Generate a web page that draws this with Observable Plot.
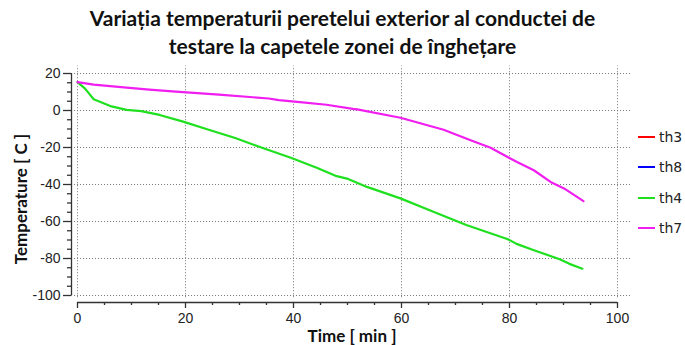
<!DOCTYPE html>
<html>
<head>
<meta charset="utf-8">
<script src="https://cdn.jsdelivr.net/npm/d3@7"></script>
<script src="https://cdn.jsdelivr.net/npm/@observablehq/plot@0.6"></script>
<style>
  body { margin: 0; background: #fff; }
  #wrap { position: relative; width: 685px; height: 345px; overflow: hidden; background: #fff; }
  #title { position: absolute; left: 0; top: 4px; width: 685px; text-align: center;
    font-family: Lato, sans-serif; font-weight: bold; font-size: 21px; line-height: 28px; color: #111; }
  #chart { position: absolute; left: 0; top: 62px; }
  #legend { position: absolute; left: 638px; top: 122px; font-family: "DejaVu Sans", sans-serif; font-size: 14px; color: #222; }
  .item { display: flex; align-items: center; height: 30.3px; }
  .sw { width: 17px; height: 2px; margin-right: 4px; }
  .axt { position: absolute; font-family: Lato, sans-serif; font-weight: bold; font-size: 17px; color: #111; white-space: nowrap; line-height: 1; }
  #ytitle { left: 20px; top: 199px; transform: translate(-50%, -50%) rotate(-90deg); }
  #xtitle { left: 352px; top: 335px; transform: translate(-50%, -50%); }
</style>
</head>
<body>
<div id="wrap">
  <div id="title">Variația temperaturii peretelui exterior al conductei de<br>testare la capetele zonei de înghețare</div>
  <div id="chart"></div>
  <div id="legend"></div>
  <div id="ytitle" class="axt"></div>
  <div id="xtitle" class="axt"></div>
</div>
<script>
const seriesNames = ["th3", "th8", "th4", "th7"];
const seriesColors = ["#ff0000", "#0000ff", "#1fe01f", "#f01ef0"];

const timeTh3 = [];
const th3 = [];
const timeTh8 = [];
const th8 = [];
const timeTh4 = [0, 1.4, 3.0, 6.3, 9.1, 11.8, 15.2, 19.4, 24.3, 29.2, 34.7, 39.5, 44.3, 48.0, 49.9, 53.6, 59.8, 65.9, 72.0, 79.7, 81.3, 84.4, 89.3, 91.1, 93.5];
const th4 = [15.3, 11.8, 6.1, 2.2, 0.3, -0.3, -2.4, -5.9, -10.4, -14.9, -20.7, -25.5, -30.9, -35.5, -36.8, -41.3, -47.5, -54.7, -61.9, -69.6, -72.1, -75.4, -80.4, -82.9, -85.5];
const timeTh7 = [0, 3.0, 9.1, 13.3, 18.2, 26.2, 35.4, 37.3, 41.2, 46.1, 51.0, 51.8, 59.8, 67.8, 72.8, 76.5, 79.9, 81.4, 84.5, 87.6, 90.1, 93.7];
const th7 = [15.3, 14.0, 12.4, 11.3, 10.2, 8.6, 6.5, 5.6, 4.5, 3.1, 0.9, 0.6, -3.9, -10.4, -16.1, -20.1, -25.5, -27.8, -32.3, -38.6, -42.1, -49.0];

const xTicks = [0, 20, 40, 60, 80, 100];
const yTicks = [20, 0, -20, -40, -60, -80, -100];
const xMinor = d3.range(0, 101, 5).filter(v => v % 20 !== 0);
const yMinor = d3.range(-100, 21, 5).filter(v => v % 20 !== 0);
const xTitle = "Time [ min ]";
const yTitle = "Temperature [ C ]";

const times = [timeTh3, timeTh8, timeTh4, timeTh7];
const vals = [th3, th8, th4, th7];
const data = [];
seriesNames.forEach((name, i) => {
  times[i].forEach((t, j) => data.push({series: name, time: t, temp: vals[i][j]}));
});

const tickFont = "Liberation Sans, Arial, sans-serif";
const grid = {stroke: "#777", strokeDasharray: "1,2", strokeWidth: 1};
const fmt = d => String(d);

const plot = Plot.plot({
  width: 685,
  height: 283,
  marginTop: 11,
  marginBottom: 50,
  marginLeft: 77,
  marginRight: 68,
  x: {domain: [0, 100]},
  y: {domain: [-100, 20]},
  style: {fontFamily: tickFont, fontSize: "14px", color: "#222", background: "#fff", overflow: "visible"},
  marks: [
    Plot.ruleY(yTicks, {x1: -1.1, x2: 102.8, ...grid}),
    Plot.ruleX(xTicks, {y1: -101.2, y2: 24, ...grid}),
    Plot.line(data, {x: "time", y: "temp", z: "series",
      stroke: d => seriesColors[seriesNames.indexOf(d.series)], strokeWidth: 2.2, curve: "linear"}),
    Plot.ruleX([0], {y1: -100, y2: 20, dx: -6, stroke: "#333", strokeWidth: 1.3}),
    Plot.axisY({ticks: yTicks, tickFormat: fmt, tickSize: 8, dx: -6, tickPadding: 3, stroke: "#333", strokeWidth: 1.3, label: null}),
    Plot.axisY({ticks: yMinor, tickSize: 4, dx: -6, text: null, stroke: "#333", strokeWidth: 1.3, label: null}),
    Plot.ruleY([-100], {x1: 0, x2: 100, dy: 7, stroke: "#333", strokeWidth: 1.3}),
    Plot.axisX({ticks: xTicks, tickFormat: fmt, tickSize: 6, dy: 7, tickPadding: 5, stroke: "#333", strokeWidth: 1.3, label: null}),
    Plot.axisX({ticks: xMinor, tickSize: 3, dy: 7, text: null, stroke: "#333", strokeWidth: 1.3, label: null})
  ]
});
document.getElementById("chart").appendChild(plot);
document.getElementById("ytitle").textContent = yTitle;
document.getElementById("xtitle").textContent = xTitle;

const legend = document.getElementById("legend");
seriesNames.forEach((name, i) => {
  const row = document.createElement("div");
  row.className = "item";
  row.innerHTML = `<span class="sw" style="background:${seriesColors[i]}"></span><span>${name}</span>`;
  legend.appendChild(row);
});
</script>
</body>
</html>
